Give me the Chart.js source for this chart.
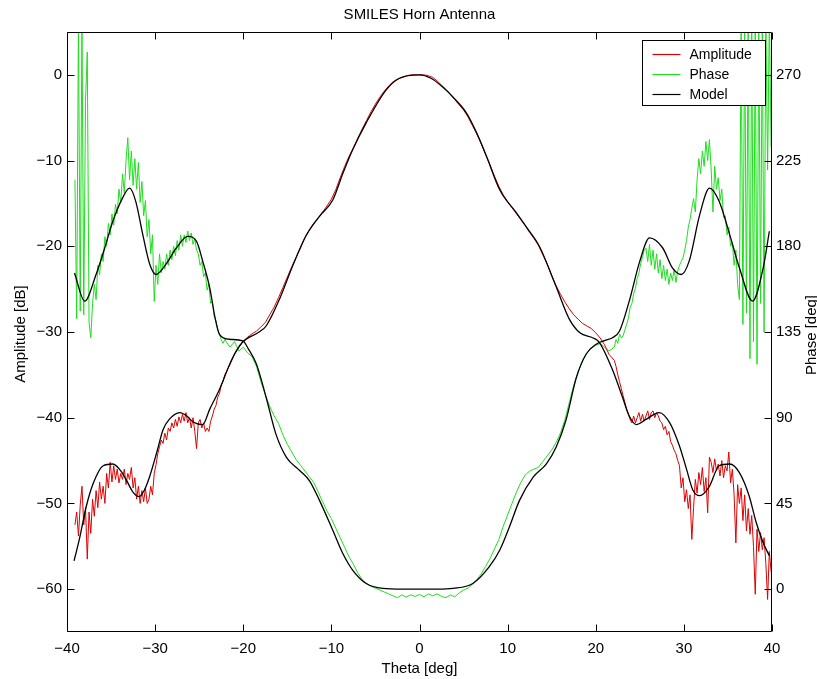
<!DOCTYPE html>
<html><head><meta charset="utf-8">
<script src="https://cdn.jsdelivr.net/npm/chart.js@4/dist/chart.umd.min.js"></script>
<style>html,body{margin:0;padding:0;background:#fff}canvas{display:block}</style>
</head><body>
<canvas id="c" width="817" height="679"></canvas>
<script>
// ---- measured data (theta in deg) ----
const thetaMeas = [
-39.1,-38.9,-38.7,-38.5,-38.3,-38.1,-37.9,-37.7,-37.5,-37.3,
-37.1,-36.9,-36.7,-36.5,-36.3,-36.1,-35.9,-35.7,-35.5,-35.3,
-35.1,-34.9,-34.7,-34.5,-34.3,-34.1,-33.9,-33.7,-33.5,-33.3,
-33.1,-32.9,-32.7,-32.5,-32.3,-32.1,-31.9,-31.7,-31.5,-31.3,
-31.1,-30.9,-30.7,-30.5,-30.3,-30.1,-29.9,-29.7,-29.5,-29.3,
-29.1,-28.9,-28.7,-28.5,-28.3,-28.1,-27.9,-27.7,-27.5,-27.3,
-27.1,-26.9,-26.7,-26.5,-26.3,-26.1,-25.9,-25.7,-25.5,-25.3,
-25.1,-24.9,-24.7,-24.5,-24.3,-24.1,-23.9,-23.7,-23.5,-23.3,
-23.1,-22.9,-22.7,-22.5,-22.3,-22.1,
-21.5,-21,-20.5,-20,-19.5,-19,-18.5,-18,-17.5,-17,
-16.5,-16,-15.5,-15,-14.5,-14,-13.5,-13,-12.5,-12,
-11.5,-11,-10.5,-10,-9.5,-9,-8.5,-8,-7.5,-7,
-6.5,-6,-5.5,-5,-4.5,-4,-3.5,-3,-2.5,-2,
-1.5,-1,-0.5,0,0.5,1,1.5,2,2.5,3,
3.5,4,4.5,5,5.5,6,6.5,7,7.5,8,
8.5,9,9.5,10,10.5,11,11.5,12,12.5,13,
13.5,14,14.5,15,15.5,16,16.5,17,17.5,18,
18.5,19,19.5,20,20.5,21,21.5,
22.1,22.3,22.5,22.7,22.9,23.1,23.3,23.5,23.7,23.9,
24.1,24.3,24.5,24.7,24.9,25.1,25.3,25.5,25.7,25.9,
26.1,26.3,26.5,26.7,26.9,27.1,27.3,27.5,27.7,27.9,
28.1,28.3,28.5,28.7,28.9,29.1,29.3,29.5,29.7,29.9,
30.1,30.3,30.5,30.7,30.9,31.1,31.3,31.5,31.7,31.9,
32.1,32.3,32.5,32.7,32.9,33.1,33.3,33.5,33.7,33.9,
34.1,34.3,34.5,34.7,34.9,35.1,35.3,35.5,35.7,35.9,
36.1,36.3,36.5,36.7,36.9,37.1,37.3,37.5,37.7,37.9,
38.1,38.3,38.5,38.7,38.9,39.1,39.3,39.5,39.7,39.9
];
const ampMeas = [
-52.5,-51.0,-53.8,-50.2,-48.0,-52.5,-50.5,-56.5,-51.0,-53.5,
-49.5,-51.5,-48.5,-50.5,-47.5,-49.5,-48.0,-50.0,-46.5,-48.2,
-45.2,-47.5,-45.6,-47.2,-46.0,-47.6,-46.5,-47.2,-46.0,-47.8,
-46.5,-47.2,-45.8,-48.2,-47.0,-49.5,-48.0,-50.0,-48.5,-49.8,
-48.2,-50.0,-49.5,-48.0,-49.0,-46.5,-45.5,-44.2,-43.4,-42.6,
-43.0,-41.8,-42.6,-41.2,-41.6,-40.6,-41.2,-40.2,-41.0,-39.9,
-40.6,-39.6,-40.4,-39.4,-40.6,-40.0,-41.2,-40.0,-41.6,-43.6,
-40.6,-40.2,-41.2,-40.6,-41.6,-41.2,-41.6,-40.4,-39.8,-39.0,
-38.6,-37.6,-37.2,-36.2,-35.8,-35.0,
-33.8,-32.6,-31.8,-31.1,-30.6,-30.2,-29.9,-29.4,-28.9,-28.0,
-27.1,-26.0,-24.8,-23.6,-22.4,-21.3,-20.2,-19.0,-18.1,-17.3,
-16.7,-16.0,-15.3,-14.5,-13.4,-12.0,-10.7,-9.5,-8.5,-7.4,
-6.3,-5.3,-4.3,-3.4,-2.6,-1.9,-1.3,-0.8,-0.5,-0.3,
-0.1,0.0,0.0,0.0,0.0,-0.1,-0.3,-0.7,-1.2,-1.7,
-2.3,-2.9,-3.5,-4.1,-4.9,-5.9,-6.9,-8.0,-9.3,-10.5,
-11.8,-13.0,-14.0,-14.8,-15.5,-16.2,-16.9,-17.6,-18.4,-19.1,
-19.9,-21.0,-22.1,-23.4,-24.6,-25.6,-26.5,-27.3,-28.0,-28.5,
-29.0,-29.3,-29.6,-30.1,-30.7,-31.5,-32.6,
-33.3,-34.0,-35.0,-35.8,-36.6,-37.4,-38.2,-39.0,-39.6,-40.2,
-40.6,-39.8,-40.6,-40.0,-39.4,-40.4,-39.6,-40.4,-39.8,-39.2,
-40.2,-39.4,-39.2,-40.0,-39.4,-39.8,-40.4,-40.6,-41.4,-41.0,
-42.0,-41.6,-42.8,-43.2,-43.8,-44.2,-45.0,-45.6,-48.2,-47.0,
-49.8,-48.4,-50.6,-49.0,-54.2,-50.5,-47.2,-48.8,-46.4,-47.8,
-45.8,-48.6,-47.0,-51.1,-44.6,-45.2,-46.4,-44.8,-46.2,-45.4,
-46.8,-45.0,-47.0,-45.6,-46.2,-44.0,-47.6,-46.0,-49.0,-54.6,
-47.8,-50.0,-48.2,-52.0,-49.0,-53.2,-50.6,-53.6,-51.4,-55.0,
-60.6,-53.0,-55.6,-53.4,-55.4,-54.0,-57.0,-61.2,-55.6,-58.0
];
const phaseMeas = [
215,142,300,146,300,144,256,282,140,132,
150,160,152,170,165,176,172,185,180,192,
186,197,191,202,197,210,203,218,208,225,
237,215,230,212,226,210,224,203,214,196,
204,185,194,176,186,151,170,160,176,166,
172,168,176,170,178,173,180,175,183,178,
186,180,186,182,188,183,187,181,184,178,
176,170,172,164,166,157,160,150,151,143,
141,136,134,131,129,131,
127,130,125,127,124,122,117,109,102,96,
91,87,81,76,72,68,65,62,59,56,
51,46,41,37,32,27,22,17,13,8.5,
5,3,1.5,0.5,-0.5,-1.5,-2.5,-3.5,-4.5,-3.0,
-4.2,-3.0,-3.8,-2.8,-4.0,-2.5,-3.5,-2.5,-3.8,-4.5,
-3.0,-4.0,-2.0,-0.5,0.5,2.5,5,8,12,16,
21,26,33,39,45,51,56,60,62,63,
64,67,70,73,77,82,89,98,107,114,
120,124,127,128,129,127,125,
127,131,129,134,132,133,136,139,142,148,
150,155,158,163,166,171,174,178,179,172,
181,170,178,168,176,166,173,163,170,162,
168,160,166,162,168,161,167,170,172,174,
178,183,190,194,200,205,198,215,226,218,
230,222,235,225,236,220,198,222,210,216,
204,210,195,196,186,190,180,182,170,178,
160,152,300,139,300,145,300,121,300,130,
300,118,300,150,300,135,300,220,300,232
];
// ---- model curves ----
const modelAmpTheta = [-39.2,-38.6,-37.8,-37.0,-35.9,-34.8,-33.9,-33.3,-32.5,-31.8,-31.2,-30.6,-29.8,-29.1,-28.4,-27.2,-26.4,-25.7,-24.6,-23.8,-22.7,-21.3,-20.1,-18.2,-17.4,-15.9,-14.4,-12.9,-11.35,-9.84,-8.7,-7.57,-6.05,-3.78,-2.27,0,1.3,2.6,4.0,5.3,6.5,7.6,9.1,11.0,12.3,13.6,15.5,17.0,18.2,19.7,20.4,21.9,23.0,23.8,24.6,25.7,27.2,28.4,29.5,30.3,31.0,31.8,32.9,34.0,35.2,36.3,37.4,38.2,39.0,39.7];
const modelAmp = [-56.7,-54.2,-50.3,-47.6,-45.6,-45.4,-46.2,-47.2,-48.7,-49.2,-48.4,-46.8,-44.0,-41.4,-40.2,-39.4,-39.8,-40.5,-40.8,-39.0,-36.7,-33.2,-31.2,-30.0,-29.3,-26.2,-22.3,-18.8,-16.5,-14.6,-11.5,-8.7,-5.6,-1.75,-0.4,0,-0.4,-1.4,-2.8,-4.4,-6.8,-9.5,-13.4,-16.1,-18.0,-20.0,-24.7,-28.5,-30.1,-30.7,-31.2,-34.4,-37.5,-39.8,-40.8,-40.2,-39.4,-40.6,-43.3,-46.0,-48.4,-49.1,-48.0,-45.6,-45.4,-46.4,-49.1,-52.2,-54.6,-56.1];
const modelPhaseTheta = [-39.15,-38.0,-36.7,-35.6,-34.8,-33.7,-32.9,-32.2,-31.4,-30.6,-29.9,-28.8,-27.6,-26.3,-25.3,-24.6,-23.8,-23.2,-22.7,-21.6,-20.05,-19.4,-18.5,-17.4,-16.3,-15.1,-13.6,-12.5,-11.35,-9.84,-8.7,-7.57,-6.05,-4.16,-2,0,2,3.8,6.05,7.9,9.1,10.2,11.35,12.9,14.4,15.5,16.6,17.8,18.9,20.05,21.0,21.9,22.7,23.8,25.0,26.1,27.6,28.7,29.7,30.6,31.8,32.9,34.0,35.2,36.3,37.8,39.0,39.7];
const modelPhase = [166,151.2,165.2,180.9,193.1,205.3,210.5,203.6,186.1,170.4,165.2,170.4,179.1,185.2,182.6,172.2,158.2,142.5,133.8,131.2,130.3,126,118.1,100.6,81.5,69.2,62.3,57.0,46.6,30.9,18.7,9.9,3.0,0.4,0,0,0,0.4,3.0,11.7,20.4,32.6,46.6,58.8,65.8,74.5,88.4,111.1,123.3,128.6,130.5,132.0,135.5,151.2,172.2,184.4,179.1,168.7,165.2,172.2,196.6,210.5,203.6,186.1,168.7,151.2,168.7,187.9];
// ---- ticks and labels ----
const thetaTicks = [-40,-30,-20,-10,0,10,20,30,40];
const ampTicks = [-60,-50,-40,-30,-20,-10,0];
const phaseTicks = [0,45,90,135,180,225,270];
const seriesLabels = ['Amplitude','Phase','Model'];
const titleText = 'SMILES Horn Antenna';
const xTitle = 'Theta [deg]';
const yTitle = 'Amplitude [dB]';
const y1Title = 'Phase [deg]';

const RED = 'rgb(222,0,0)', GREEN = 'rgb(30,222,30)', BLACK = '#000';
const FONT = "'Liberation Sans', Arial, Helvetica, sans-serif";
const pts = (xs, ys) => xs.map((x, i) => ({x: x, y: ys[i]}));
const fmt = v => String(v).replace('-', '\u2212');

Chart.defaults.font.family = FONT;
Chart.defaults.font.size = 15;
Chart.defaults.color = '#000';

const decor = {
  id: 'decor',
  afterDatasetsDraw(chart) {
    const {ctx, chartArea: a, scales} = chart;
    const L = Math.round(a.left) + 0.5, R = Math.round(a.right) - 0.5;
    const T = Math.round(a.top) + 0.5, B = Math.round(a.bottom) - 0.5;
    const tl = 7;
    ctx.save();
    ctx.strokeStyle = '#000'; ctx.lineWidth = 1;
    ctx.beginPath();
    ctx.rect(L, T, R - L, B - T);
    thetaTicks.forEach(v => { const px = Math.round(scales.x.getPixelForValue(v)) + 0.5;
      ctx.moveTo(px, B); ctx.lineTo(px, B - tl); ctx.moveTo(px, T); ctx.lineTo(px, T + tl); });
    ampTicks.forEach(v => { const py = Math.round(scales.y.getPixelForValue(v)) + 0.5;
      ctx.moveTo(L, py); ctx.lineTo(L + tl, py); });
    phaseTicks.forEach(v => { const py = Math.round(scales.y1.getPixelForValue(v)) + 0.5;
      ctx.moveTo(R, py); ctx.lineTo(R - tl, py); });
    ctx.stroke();
    // legend
    const colors = [RED, GREEN, BLACK];
    const bx = Math.round(a.right) - 130 + 0.5, by = Math.round(a.top) + 8 + 0.5, bw = 123, bh = 65;
    ctx.fillStyle = '#fff';
    ctx.fillRect(bx, by, bw, bh);
    ctx.strokeStyle = '#000';
    ctx.strokeRect(bx, by, bw, bh);
    ctx.font = '14px ' + FONT;
    ctx.textAlign = 'left'; ctx.textBaseline = 'middle';
    seriesLabels.forEach((lab, i) => {
      const ly = by + 14 + 20 * i;
      ctx.strokeStyle = colors[i]; ctx.lineWidth = 1.2;
      ctx.beginPath(); ctx.moveTo(bx + 10, ly); ctx.lineTo(bx + 38, ly); ctx.stroke();
      ctx.fillStyle = '#000';
      ctx.fillText(lab, bx + 47, ly + 1);
    });
    // titles
    ctx.font = '15px ' + FONT;
    ctx.fillStyle = '#000';
    ctx.textAlign = 'center'; ctx.textBaseline = 'middle';
    const cx = (a.left + a.right) / 2, cy = (a.top + a.bottom) / 2;
    ctx.fillText(titleText, cx, 15);
    ctx.fillText(xTitle, cx, 669);
    ctx.save(); ctx.translate(21, cy + 2); ctx.rotate(-Math.PI / 2); ctx.fillText(yTitle, 0, 0); ctx.restore();
    ctx.save(); ctx.translate(812, cy + 3); ctx.rotate(-Math.PI / 2); ctx.fillText(y1Title, 0, 0); ctx.restore();
    ctx.restore();
  }
};

new Chart(document.getElementById('c'), {
  type: 'line',
  data: {
    datasets: [
      {label: 'Model', data: pts(modelAmpTheta, modelAmp), yAxisID: 'y', borderColor: BLACK, borderWidth: 1.3, cubicInterpolationMode: 'monotone', order: 0},
      {label: 'Model (phase)', data: pts(modelPhaseTheta, modelPhase), yAxisID: 'y1', borderColor: BLACK, borderWidth: 1.3, cubicInterpolationMode: 'monotone', order: 0},
      {label: 'Amplitude', data: pts(thetaMeas, ampMeas), yAxisID: 'y', borderColor: RED, borderWidth: 1, order: 1},
      {label: 'Phase', data: pts(thetaMeas, phaseMeas), yAxisID: 'y1', borderColor: GREEN, borderWidth: 1, order: 2}
    ]
  },
  options: {
    responsive: false,
    animation: false,
    events: [],
    layout: {padding: {top: 32, left: 0, right: 0, bottom: 0}},
    elements: {point: {radius: 0}, line: {tension: 0, borderJoinStyle: 'round'}},
    plugins: {legend: {display: false}, title: {display: false}, tooltip: {enabled: false}},
    scales: {
      x: {
        type: 'linear', min: -40, max: 40,
        grid: {display: false, drawTicks: false}, border: {display: false},
        afterBuildTicks: s => { s.ticks = thetaTicks.map(v => ({value: v})); },
        afterFit: s => { s.height = 47; },
        ticks: {autoSkip: false, maxRotation: 0, padding: 8, callback: fmt}
      },
      y: {
        type: 'linear', position: 'left', min: -65, max: 5,
        grid: {display: false, drawTicks: false}, border: {display: false},
        afterBuildTicks: s => { s.ticks = ampTicks.map(v => ({value: v})); },
        afterFit: s => { s.width = 67; },
        ticks: {padding: 5, callback: fmt}
      },
      y1: {
        type: 'linear', position: 'right', min: -22.5, max: 292.5,
        grid: {display: false, drawTicks: false}, border: {display: false},
        afterBuildTicks: s => { s.ticks = phaseTicks.map(v => ({value: v})); },
        afterFit: s => { s.width = 45; },
        ticks: {padding: 4, callback: fmt}
      }
    }
  },
  plugins: [decor]
});
</script>
</body></html>
